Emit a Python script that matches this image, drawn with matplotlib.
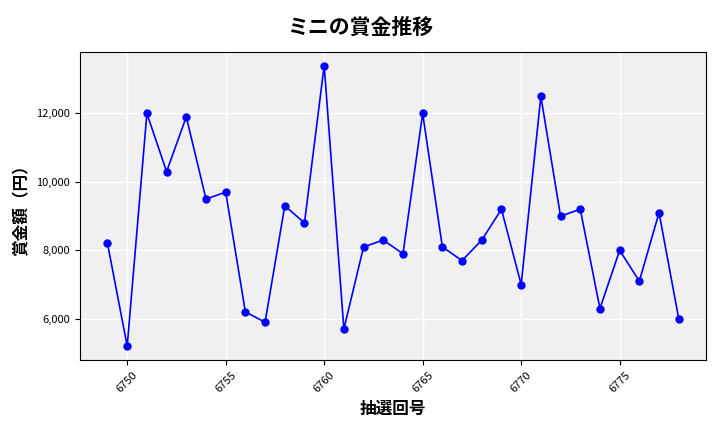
import matplotlib
matplotlib.use("Agg")
import matplotlib.pyplot as plt
from matplotlib.ticker import FuncFormatter, MultipleLocator

plt.rcParams['font.family'] = ['Noto Sans CJK JP', 'DejaVu Sans']

draws = list(range(6749, 6779))
prizes = [8200, 5200, 12000, 10300, 11900, 9500, 9700, 6200, 5900, 9300,
          8800, 13400, 5700, 8100, 8300, 7900, 12000, 8100, 7700, 8300,
          9200, 7000, 12500, 9000, 9200, 6300, 8000, 7100, 9100, 6000]

fig = plt.figure(figsize=(7.2, 4.32), dpi=100)
ax = fig.add_axes([0.111, 0.167, 0.870, 0.713])
ax.set_facecolor('#f0f0f0')
ax.plot(draws, prizes, color='blue', marker='o', markersize=5, linewidth=1.2)
ax.grid(True, color='white', linewidth=1)
ax.set_axisbelow(True)
ax.yaxis.set_major_locator(MultipleLocator(2000))
ax.yaxis.set_major_formatter(FuncFormatter(lambda v, p: f'{int(v):,}'))
ax.set_xticks([6750, 6755, 6760, 6765, 6770, 6775])
ax.tick_params(axis='x', rotation=45, labelsize=8)
ax.tick_params(axis='y', labelsize=8)
ax.set_xlim(6747.6, 6779.4)
ax.set_ylim(4800, 13800)
ax.set_xlabel('抽選回号', fontsize=12, fontweight='bold')
ax.set_ylabel('賞金額（円）', fontsize=12, fontweight='bold')
fig.suptitle('ミニの賞金推移', fontsize=15, fontweight='bold', y=0.96)
fig.savefig('out.png', dpi=100)
